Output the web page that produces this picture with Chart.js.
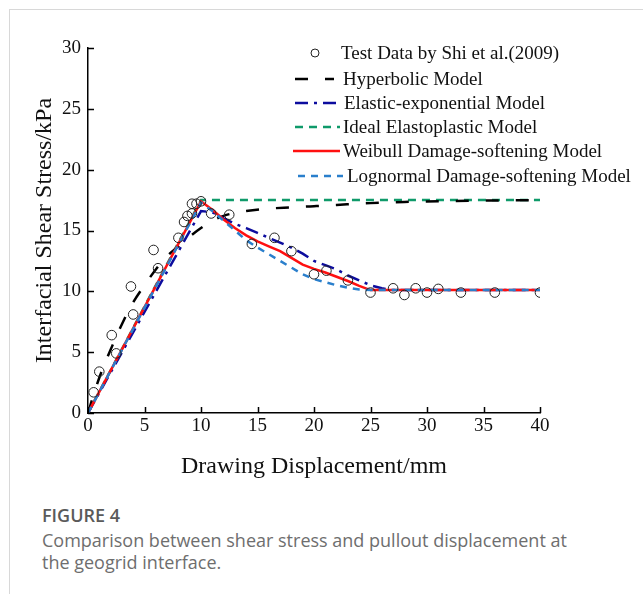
<!DOCTYPE html>
<html>
<head>
<meta charset="utf-8">
<script src="https://cdn.jsdelivr.net/npm/chart.js@4/dist/chart.umd.min.js"></script>
<style>
  html, body { margin: 0; padding: 0; background: #fff; }
  body { width: 643px; height: 594px; position: relative; overflow: hidden; }
  .card { position: absolute; left: 9px; top: 9px; width: 660px; height: 620px;
          border-left: 1px solid #d8d8d8; border-top: 1px solid #d8d8d8; }
  #wrap { position: absolute; left: 0; top: 0; width: 643px; height: 480px; }
  .fig { position: absolute; left: 42px; top: 504px; font-family: 'Open Sans', sans-serif;
         font-weight: 600; font-size: 18px; line-height: 22px; color: #5a5a5a; }
  .cap { position: absolute; left: 42px; top: 529px; width: 545px; font-family: 'Open Sans', sans-serif;
         font-size: 18px; line-height: 22px; color: #6e6e6e; }
</style>
</head>
<body>
<div class="card"></div>
<div id="wrap"><canvas id="c" width="643" height="480"></canvas></div>
<div class="fig">FIGURE 4</div>
<div class="cap">Comparison between shear stress and pullout displacement at the geogrid interface.</div>
<script>
// Pull-out test measurements (displacement in mm, shear stress in kPa)
const testX = [0.5, 1.0, 2.1, 2.5, 3.8, 4.0, 5.8, 6.2, 8.0, 8.5, 8.8, 9.2, 9.2, 9.6, 10.0, 10.9,
               12.5, 14.5, 16.5, 18.0, 20.0, 21.1, 23.0, 25.0, 27.0, 28.0, 29.0, 30.0, 31.0, 33.0, 36.0, 40.0];
const testY = [1.7, 3.4, 6.4, 4.9, 10.4, 8.1, 13.4, 11.9, 14.4, 15.7, 16.2, 16.4, 17.2, 17.2, 17.4, 16.4,
               16.3, 13.9, 14.4, 13.3, 11.4, 11.7, 10.9, 9.9, 10.25, 9.7, 10.25, 9.9, 10.2, 9.9, 9.9, 9.9];

// Hyperbolic model
const hyperX = [0, 0.5, 1, 1.5, 2, 3, 4, 5, 6, 7, 8, 9, 10, 11, 12, 13, 14, 16, 18, 20, 22, 25, 28, 32, 36, 40];
const hyperY = [0, 1.5, 2.9, 4.1, 5.2, 7.3, 9.1, 10.5, 11.8, 12.9, 13.7, 14.5, 15.2, 15.8, 16.2, 16.45, 16.6,
                16.8, 16.9, 17.0, 17.1, 17.25, 17.35, 17.42, 17.47, 17.5];

// Elastic-exponential model
const elexpX = [0, 10, 11, 12, 13, 14, 15, 16, 17, 18, 19, 20, 21, 22, 23, 24, 25, 26, 27, 40];
const elexpY = [0, 16.6, 16.5, 16.0, 15.55, 15.2, 14.8, 14.4, 14.0, 13.6, 13.1, 12.5, 12.15, 11.8, 11.3, 10.9, 10.5, 10.25, 10.1, 10.1];

// Ideal elastoplastic model
const idealX = [0, 10, 40];
const idealY = [0, 17.5, 17.5];

// Weibull damage-softening model
const weibX = [0, 10, 11, 12, 13, 14, 15, 16, 17, 18, 19, 20, 21, 22, 23, 24, 25, 40];
const weibY = [0, 17.4, 16.7, 15.9, 15.2, 14.6, 14.1, 13.7, 13.3, 12.75, 12.2, 11.85, 11.55, 11.2, 10.85, 10.45, 10.1, 10.1];

// Lognormal damage-softening model
const lognX = [0, 10, 11, 12, 13, 14, 15, 16, 17, 18, 19, 20, 21, 22, 23, 24, 25, 40];
const lognY = [0, 17.3, 16.6, 15.8, 15.0, 14.2, 13.6, 13.05, 12.5, 11.95, 11.4, 11.0, 10.75, 10.5, 10.3, 10.15, 10.1, 10.1];

const xTicks = [0, 5, 10, 15, 20, 25, 30, 35, 40];
const yTicks = [0, 5, 10, 15, 20, 25, 30];

const pts = (xs, ys) => xs.map((x, i) => ({ x: x, y: ys[i] }));

const SERIF = "'Liberation Serif', 'Times New Roman', serif";

const legendRows = [
  { ds: 0, y: 53, x0: 315, x1: 315, tx: 341 },
  { ds: 1, y: 79, x0: 295, x1: 334, tx: 343 },
  { ds: 2, y: 103, x0: 295, x1: 340, tx: 344 },
  { ds: 3, y: 127, x0: 295, x1: 340, tx: 343 },
  { ds: 4, y: 151, x0: 293, x1: 340, tx: 343 },
  { ds: 5, y: 176, x0: 298, x1: 343, tx: 347 }
];

const decorations = {
  id: 'decorations',
  afterDraw(chart) {
    const ctx = chart.ctx;
    const xs = chart.scales.x, ys = chart.scales.y;
    const area = chart.chartArea;
    ctx.save();
    // inward tick marks
    ctx.strokeStyle = '#000';
    ctx.lineWidth = 1.5;
    ctx.beginPath();
    xTicks.forEach(v => {
      const px = Math.round(xs.getPixelForValue(v)) + 0.5;
      ctx.moveTo(px, area.bottom);
      ctx.lineTo(px, area.bottom - 6);
    });
    yTicks.forEach(v => {
      const py = Math.round(ys.getPixelForValue(v)) + 0.5;
      ctx.moveTo(area.left, py);
      ctx.lineTo(area.left + 6, py);
    });
    ctx.stroke();

    // axis titles
    ctx.fillStyle = '#111';
    ctx.textAlign = 'center';
    ctx.textBaseline = 'middle';
    ctx.font = '24px ' + SERIF;
    ctx.save();
    ctx.translate(45, (area.top + area.bottom) / 2);
    ctx.rotate(-Math.PI / 2);
    ctx.fillText('Interfacial Shear Stress/kPa', 0, 0);
    ctx.restore();
    ctx.fillText('Drawing Displacement/mm', (area.left + area.right) / 2, 467);

    // legend
    ctx.font = '19px ' + SERIF;
    ctx.textAlign = 'left';
    legendRows.forEach(r => {
      const ds = chart.data.datasets[r.ds];
      if (ds.showLine === false) {
        ctx.setLineDash([]);
        ctx.lineWidth = 1;
        ctx.strokeStyle = ds.borderColor;
        ctx.beginPath();
        ctx.arc(r.x0, r.y, 4, 0, Math.PI * 2);
        ctx.stroke();
      } else {
        ctx.setLineDash(ds.borderDash || []);
        ctx.lineWidth = ds.borderWidth;
        ctx.strokeStyle = ds.borderColor;
        ctx.beginPath();
        ctx.moveTo(r.x0, r.y);
        ctx.lineTo(r.x1, r.y);
        ctx.stroke();
      }
      ctx.setLineDash([]);
      ctx.fillStyle = '#111';
      ctx.fillText(ds.label, r.tx, r.y + 1);
    });
    ctx.restore();
  }
};

new Chart(document.getElementById('c'), {
  type: 'scatter',
  data: {
    datasets: [
      { label: 'Test Data by Shi et al.(2009)', data: pts(testX, testY), showLine: false,
        pointStyle: 'circle', pointRadius: 4.8, borderColor: '#222', borderWidth: 1,
        backgroundColor: 'rgba(255,255,255,0)', order: 0 },
      { label: 'Hyperbolic Model', data: pts(hyperX, hyperY), showLine: true, pointRadius: 0,
        borderColor: '#000', borderWidth: 2.5, borderDash: [13, 17], cubicInterpolationMode: 'monotone', order: 4 },
      { label: 'Elastic-exponential Model', data: pts(elexpX, elexpY), showLine: true, pointRadius: 0,
        borderColor: '#0c0c9e', borderWidth: 2.5, borderDash: [13, 6, 3, 6], order: 3 },
      { label: 'Ideal Elastoplastic Model', data: pts(idealX, idealY), showLine: true, pointRadius: 0,
        borderColor: '#0f9a6a', borderWidth: 2.5, borderDash: [8, 6], order: 5 },
      { label: 'Weibull Damage-softening Model', data: pts(weibX, weibY), showLine: true, pointRadius: 0,
        borderColor: '#ff1010', borderWidth: 2.5, order: 2 },
      { label: 'Lognormal Damage-softening Model', data: pts(lognX, lognY), showLine: true, pointRadius: 0,
        borderColor: '#2a7fcc', borderWidth: 2.5, borderDash: [7, 6], order: 1 }
    ]
  },
  options: {
    responsive: false,
    animation: false,
    devicePixelRatio: 1,
    layout: { padding: { left: 0, top: 48, right: 103, bottom: 0 } },
    plugins: { legend: { display: false }, tooltip: { enabled: false } },
    scales: {
      x: {
        type: 'linear', min: 0, max: 40,
        afterFit: s => { s.height = 67; },
        afterBuildTicks: s => { s.ticks = xTicks.map(v => ({ value: v })); },
        grid: { display: false, drawTicks: false },
        border: { display: true, color: '#000', width: 1.5 },
        ticks: { color: '#111', font: { family: SERIF, size: 19 }, padding: 2 }
      },
      y: {
        type: 'linear', min: 0, max: 30,
        afterFit: s => { s.width = 88; },
        afterBuildTicks: s => { s.ticks = yTicks.map(v => ({ value: v })); },
        grid: { display: false, drawTicks: false },
        border: { display: true, color: '#000', width: 1.5 },
        ticks: { color: '#111', font: { family: SERIF, size: 19 }, padding: 7 }
      }
    }
  },
  plugins: [decorations]
});
</script>
</body>
</html>
